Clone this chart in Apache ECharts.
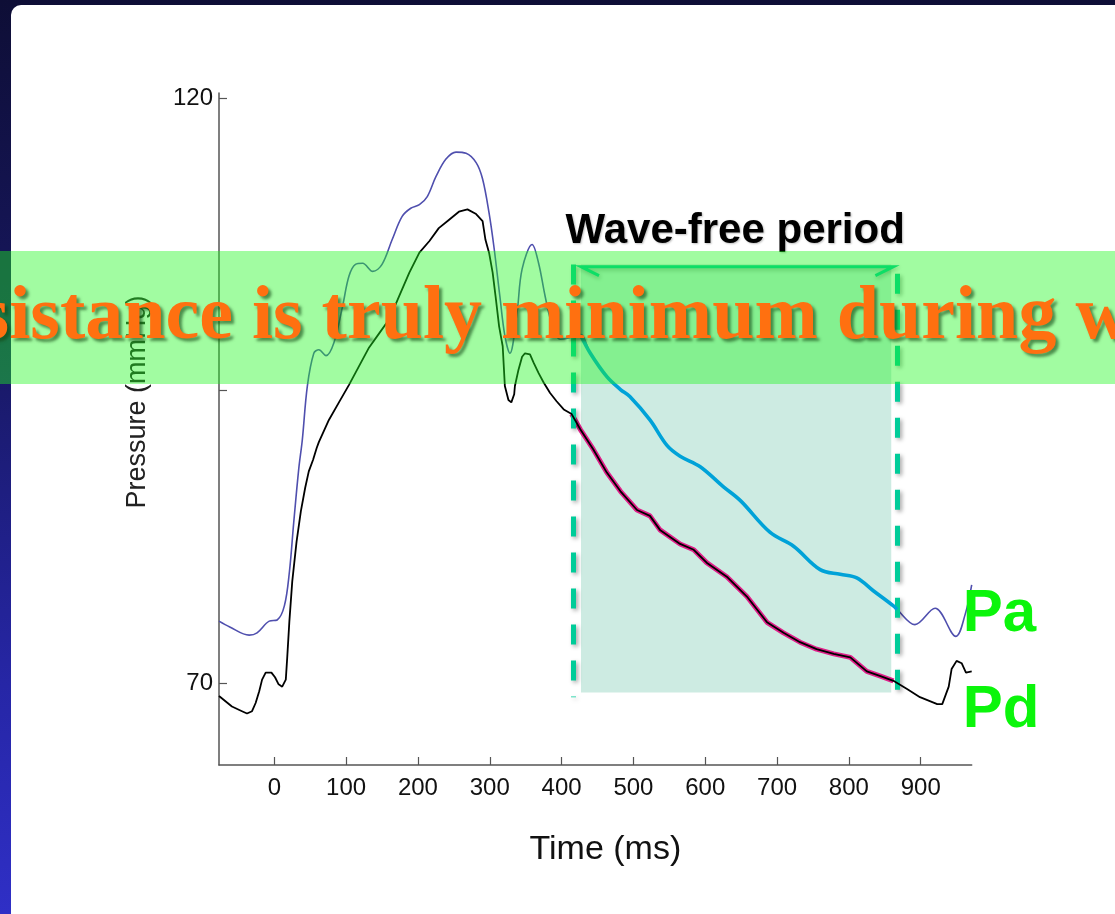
<!DOCTYPE html>
<html>
<head>
<meta charset="utf-8">
<script src="https://cdn.jsdelivr.net/npm/echarts@6/dist/echarts.min.js"></script>
<style>
  html, body { margin: 0; padding: 0; width: 1115px; height: 914px; overflow: hidden; }
  body { background: linear-gradient(180deg, #0e0e36 0%, #17175e 35%, #2626a6 75%, #2f2fc6 100%); position: relative; }
  #panel { position: absolute; left: 11px; top: 5px; right: 0; bottom: 0; background: #ffffff; border-top-left-radius: 10px; }
  #chart { position: absolute; left: 0; top: 0; width: 1115px; height: 914px; }
</style>
</head>
<body>
<div id="panel"></div>
<div id="chart"></div>
<script>
// ---- data (time in ms, pressure in mmHg) ----
const paTime = [-77, -62, -35, -24, -7, 4, 14, 21, 27, 34, 39, 46, 55, 62, 72, 83, 95, 104, 113, 123, 137, 150, 164, 178, 190, 202, 213, 225, 239, 253, 267, 281, 290, 299, 306, 314, 321, 328, 338, 345, 359, 368, 377, 386, 398, 410, 426, 440, 463, 482, 495, 523, 547, 565, 593, 625, 649, 690, 723, 760, 788, 811, 834, 862, 867, 892, 920, 949, 962, 971];
const pa = [75.3, 74.8, 74.1, 74.3, 75.3, 75.4, 76.6, 79.5, 83.7, 88.3, 90.8, 95.4, 98.2, 98.5, 98.0, 99.1, 102.2, 104.8, 105.8, 105.9, 105.2, 105.8, 107.9, 109.9, 110.6, 110.9, 111.6, 113.3, 114.8, 115.4, 115.3, 114.5, 113.1, 110.2, 107.2, 103.1, 99.7, 98.2, 101.7, 105.4, 107.5, 105.9, 103.1, 100.8, 99.4, 99.5, 99.8, 98.2, 96.2, 95.1, 94.5, 92.5, 90.3, 89.4, 88.5, 86.8, 85.6, 82.9, 81.7, 79.7, 79.3, 79.0, 77.9, 76.6, 76.3, 75.0, 76.4, 74.0, 75.9, 78.4];

const pdTime = [-77, -59, -45, -38, -31, -26, -21, -17, -12, -4, 1, 6, 11, 16, 18, 21, 25, 31, 37, 43, 48, 54, 59, 62, 76, 90, 104, 118, 132, 146, 160, 174, 188, 202, 216, 229, 243, 257, 269, 281, 290, 294, 299, 304, 308, 313, 318, 321, 326, 330, 334, 335, 340, 345, 349, 356, 361, 368, 375, 384, 393, 403, 414, 426, 444, 463, 482, 505, 523, 537, 565, 584, 602, 630, 658, 686, 709, 732, 755, 779, 802, 825, 844, 862, 881, 899, 923, 930, 939, 943, 950, 957, 963, 971];
const pd = [68.9, 68.0, 67.6, 67.4, 67.6, 68.3, 69.3, 70.3, 70.9, 70.9, 70.5, 69.9, 69.7, 70.3, 72.2, 75.3, 78.7, 82.1, 84.7, 86.7, 88.1, 89.1, 90.1, 90.6, 92.5, 94.0, 95.5, 97.1, 98.7, 99.9, 101.1, 103.1, 105.1, 106.8, 107.8, 108.9, 109.6, 110.3, 110.5, 110.1, 109.5, 107.9, 106.8, 105.1, 103.1, 100.5, 98.8, 95.4, 94.2, 94.0, 94.7, 95.4, 96.8, 97.9, 98.2, 98.1, 97.4, 96.5, 95.7, 94.8, 94.1, 93.4, 93.0, 91.7, 90.0, 88.0, 86.4, 84.8, 84.3, 83.1, 81.9, 81.4, 80.3, 79.1, 77.4, 75.2, 74.3, 73.5, 72.9, 72.5, 72.2, 71.0, 70.6, 70.2, 69.5, 68.8, 68.2, 68.2, 69.7, 71.2, 71.9, 71.7, 70.9, 71.0];

// wave-free window (ms)
const wfStart = 426;
const wfEnd = 867;
const wfLineLeft = 416.5;
const wfLineRight = 867;
const shadeRange = [427, 859];
const shadeP = [105.8, 69.2];

const xTicks = [0, 100, 200, 300, 400, 500, 600, 700, 800, 900];
const yTicks = [70, 95, 120];
const yLabels = [70, 120];

const titleText = 'Resistance is truly minimum during wave-free period';

// ---- build ----
const paData = paTime.map((t, i) => [t, pa[i]]);
const pdData = pdTime.map((t, i) => [t, pd[i]]);
const paWin = paData.filter(d => d[0] >= wfStart - 1 && d[0] <= wfEnd);
const pdWin = pdData.filter(d => d[0] >= 414 && d[0] <= wfEnd);

const FONT = '"Liberation Sans", Arial, Helvetica, sans-serif';
const chart = echarts.init(document.getElementById('chart'), null, { renderer: 'canvas' });

const option = {
  animation: false,
  backgroundColor: 'transparent',
  grid: { left: 219, right: 143.3, top: 92.9, bottom: 149, containLabel: false, outerBoundsMode: 'none' },
  xAxis: {
    type: 'value', min: -77, max: 971,
    name: 'Time (ms)', nameLocation: 'middle', nameGap: 68,
    nameTextStyle: { fontFamily: FONT, fontSize: 34, color: '#111', padding: [0, 0, 0, 20] },
    axisLine: { show: true, onZero: false, lineStyle: { color: '#555', width: 1.5 } },
    axisTick: { show: true, inside: true, length: 8, lineStyle: { color: '#555', width: 1.2 }, customValues: xTicks },
    axisLabel: { fontFamily: FONT, fontSize: 24, color: '#111', margin: 11, customValues: xTicks },
    splitLine: { show: false }
  },
  yAxis: {
    type: 'value', min: 63, max: 120.46,
    name: 'Pressure (mmHg)', nameLocation: 'middle', nameGap: 68,
    nameTextStyle: { fontFamily: FONT, fontSize: 27, color: '#222', padding: [0, 0, 0, 54] },
    axisLine: { show: true, onZero: false, lineStyle: { color: '#555', width: 1.5 } },
    axisTick: { show: true, inside: true, length: 8, lineStyle: { color: '#555', width: 1.2 }, customValues: yTicks },
    axisLabel: { fontFamily: FONT, fontSize: 24, color: '#111', margin: 6, customValues: yLabels },
    splitLine: { show: false }
  },
  series: [
    {
      name: 'Pa', type: 'line', data: paData, smooth: 0.35, showSymbol: false, symbol: 'none',
      lineStyle: { color: '#4f4fae', width: 1.6 }, z: 3,
      markArea: {
        silent: true,
        itemStyle: { color: '#CDEBE2', opacity: 1 },
        data: [[{ coord: [shadeRange[0], shadeP[0]] }, { coord: [shadeRange[1], shadeP[1]] }]]
      }
    },
    {
      name: 'Pd window', type: 'line', data: pdWin, showSymbol: false, symbol: 'none',
      lineStyle: { color: '#E0208A', width: 5 }, z: 4
    },
    {
      name: 'Pd', type: 'line', data: pdData, showSymbol: false, symbol: 'none',
      lineStyle: { color: '#000000', width: 1.8 }, z: 5
    },
    {
      name: 'Pa window', type: 'line', data: paWin, smooth: 0.35, showSymbol: false, symbol: 'none',
      lineStyle: { color: '#00A2D8', width: 3.6 }, z: 6,
      markLine: {
        silent: true, symbol: 'none', label: { show: false },
        lineStyle: { color: '#00CC99', width: 5, type: [20, 16], shadowBlur: 4, shadowColor: 'rgba(0,0,0,0.35)', shadowOffsetX: 2, shadowOffsetY: 2 },
        data: [
          [{ coord: [wfLineLeft, 105.8] }, { coord: [wfLineLeft, 68.8] }],
          [{ coord: [wfLineRight, 105.0] }, { coord: [wfLineRight, 68.2] }]
        ]
      }
    }
  ]
};
chart.setOption(option);

// annotations placed from data coordinates
const pL = chart.convertToPixel({ gridIndex: 0 }, [shadeRange[0], 105.6]);
const pR = chart.convertToPixel({ gridIndex: 0 }, [862, 105.6]);
const midX = (chart.convertToPixel({ gridIndex: 0 }, [wfLineLeft, 0])[0] + chart.convertToPixel({ gridIndex: 0 }, [wfLineRight, 0])[0]) / 2;
const paEnd = chart.convertToPixel({ gridIndex: 0 }, [971, 75.87]);
const pdEnd = chart.convertToPixel({ gridIndex: 0 }, [971, 67.67]);

chart.setOption({
  graphic: [
    {
      type: 'polyline', z: 50,
      shape: { points: [[pL[0] + 18, pL[1] + 9], [pL[0], pL[1]], [pR[0], pR[1]], [pR[0] - 18, pR[1] + 9]] },
      style: { stroke: '#00CC99', lineWidth: 3, fill: null, shadowBlur: 4, shadowColor: 'rgba(0,0,0,0.3)', shadowOffsetX: 1, shadowOffsetY: 2 }
    },
    {
      type: 'text', z: 60, x: midX, y: 231,
      style: { text: 'Wave-free period', font: 'bold 42px ' + FONT, fill: '#000', align: 'center', verticalAlign: 'middle',
               textShadowColor: 'rgba(0,0,0,0.25)', textShadowBlur: 2, textShadowOffsetX: 1, textShadowOffsetY: 1 }
    },
    {
      type: 'text', z: 60, x: paEnd[0] - 9, y: paEnd[1],
      style: { text: 'Pa', font: 'bold 60px ' + FONT, fill: '#0BF50B', align: 'left', verticalAlign: 'middle' }
    },
    {
      type: 'text', z: 60, x: pdEnd[0] - 9, y: pdEnd[1],
      style: { text: 'Pd', font: 'bold 60px ' + FONT, fill: '#0BF50B', align: 'left', verticalAlign: 'middle' }
    },
    {
      type: 'rect', z: 100, silent: true,
      shape: { x: 0, y: 251, width: 1115, height: 133 },
      style: { fill: 'rgba(30,248,30,0.42)' }
    },
    {
      type: 'text', z: 110, x: -109, y: 318,
      style: { text: titleText, font: 'bold 76px "Liberation Serif", "Times New Roman", serif', fill: '#FF7010', align: 'left', verticalAlign: 'middle',
               textShadowColor: 'rgba(20,70,20,0.6)', textShadowBlur: 3, textShadowOffsetX: 3, textShadowOffsetY: 3 }
    }
  ]
});
</script>
</body>
</html>
